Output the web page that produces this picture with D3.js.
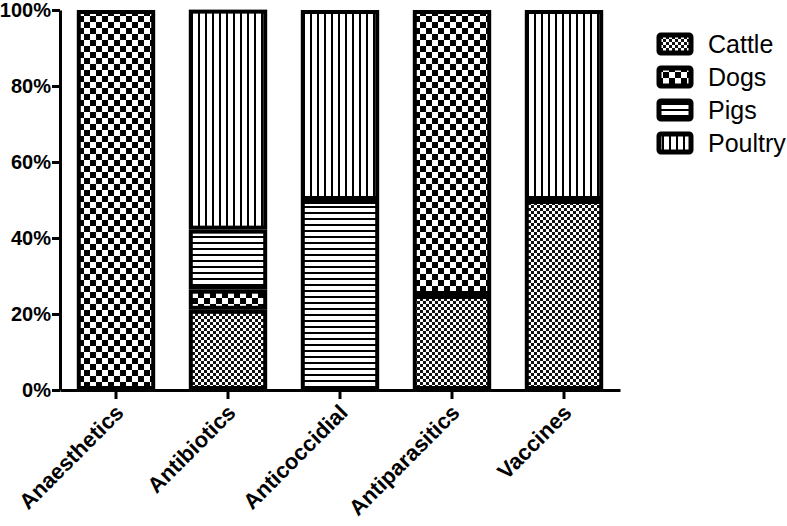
<!DOCTYPE html>
<html>
<head>
<meta charset="utf-8">
<script src="https://cdn.jsdelivr.net/npm/d3@7"></script>
<style>
  body { margin: 0; background: #fff; }
  svg { display: block; font-family: Arial, "Liberation Sans", sans-serif; }
</style>
</head>
<body>
<svg width="787" height="526"></svg>
<script>
const categories = ['Anaesthetics', 'Antibiotics', 'Anticoccidial', 'Antiparasitics', 'Vaccines'];
const species = ['Cattle', 'Dogs', 'Pigs', 'Poultry'];
const cattle  = [0, 21.1, 0, 25, 50];
const dogs    = [100, 5.3, 0, 75, 0];
const pigs    = [0, 15.8, 50, 0, 0];
const poultry = [0, 57.9, 50, 0, 50];
const yTicks = [0, 20, 40, 60, 80, 100];

const svg = d3.select('svg');
const margin = {top: 10, left: 60, bottom: 136, right: 167};
const width = 787 - margin.left - margin.right;
const height = 526 - margin.top - margin.bottom;

const defs = svg.append('defs');

// cattle: fine checker
const pCattle = defs.append('pattern').attr('id', 'p-Cattle')
  .attr('width', 6).attr('height', 6).attr('patternUnits', 'userSpaceOnUse');
pCattle.append('rect').attr('width', 6).attr('height', 6).attr('fill', '#fff');
pCattle.append('rect').attr('width', 3).attr('height', 3).attr('fill', '#111');
pCattle.append('rect').attr('x', 3).attr('y', 3).attr('width', 3).attr('height', 3).attr('fill', '#111');

// dogs: coarse checker
const pDogs = defs.append('pattern').attr('id', 'p-Dogs')
  .attr('width', 12).attr('height', 12).attr('patternUnits', 'userSpaceOnUse');
pDogs.append('rect').attr('width', 12).attr('height', 12).attr('fill', '#fff');
pDogs.append('rect').attr('width', 6).attr('height', 6).attr('fill', '#000');
pDogs.append('rect').attr('x', 6).attr('y', 6).attr('width', 6).attr('height', 6).attr('fill', '#000');

// pigs: horizontal lines
const pPigs = defs.append('pattern').attr('id', 'p-Pigs')
  .attr('width', 6).attr('height', 6).attr('patternUnits', 'userSpaceOnUse');
pPigs.append('rect').attr('width', 6).attr('height', 6).attr('fill', '#fff');
pPigs.append('rect').attr('y', 4).attr('width', 6).attr('height', 2).attr('fill', '#000');

// poultry: vertical lines
const pPoultry = defs.append('pattern').attr('id', 'p-Poultry')
  .attr('width', 7).attr('height', 7).attr('patternUnits', 'userSpaceOnUse');
pPoultry.append('rect').attr('width', 7).attr('height', 7).attr('fill', '#fff');
pPoultry.append('rect').attr('x', 5).attr('width', 2).attr('height', 7).attr('fill', '#000');

const g = svg.append('g').attr('transform', `translate(${margin.left},${margin.top})`);

const x = d3.scaleBand().domain(categories).range([0, width]).paddingInner(0.3).paddingOuter(0.15);
const y = d3.scaleLinear().domain([0, 100]).range([height, 0]);

const rows = categories.map((c, i) => ({
  category: c, Cattle: cattle[i], Dogs: dogs[i], Pigs: pigs[i], Poultry: poultry[i]
}));
const stacked = d3.stack().keys(species)(rows);

g.selectAll('.layer')
  .data(stacked)
  .join('g')
  .attr('fill', d => `url(#p-${d.key})`)
  .selectAll('rect')
  .data(d => d.filter(s => s[1] - s[0] > 0))
  .join('rect')
  .attr('x', d => x(d.data.category) + 2)
  .attr('y', d => y(d[1]) + 2)
  .attr('width', x.bandwidth() - 4)
  .attr('height', d => y(d[0]) - y(d[1]) - 4 > 0 ? y(d[0]) - y(d[1]) - 4 : 0)
  .attr('stroke', '#000')
  .attr('stroke-width', 4);

// y axis
const yAxis = g.append('g')
  .call(d3.axisLeft(y).tickValues(yTicks).tickFormat(d => d + '%').tickSize(8).tickSizeOuter(0));
yAxis.select('.domain').attr('stroke-width', 3);
yAxis.selectAll('.tick line').attr('stroke-width', 3);
yAxis.selectAll('.tick text').attr('font-size', 20).attr('font-weight', 'bold')
  .attr('font-family', 'Arial, "Liberation Sans", sans-serif').attr('fill', '#000').attr('x', -9);

// x axis
const xAxis = g.append('g').attr('transform', `translate(0,${height})`)
  .call(d3.axisBottom(x).tickSize(9).tickSizeOuter(0));
xAxis.select('.domain').attr('stroke-width', 3);
xAxis.selectAll('.tick line').attr('stroke-width', 3);
xAxis.selectAll('.tick text')
  .attr('font-size', 22).attr('font-weight', 'bold')
  .attr('font-family', 'Arial, "Liberation Sans", sans-serif').attr('fill', '#000')
  .attr('text-anchor', 'end')
  .attr('dy', null).attr('y', 0).attr('x', 0)
  .attr('transform', 'translate(9,24) rotate(-45)');

// legend
const legend = svg.append('g').attr('transform', 'translate(657,33)');
const item = legend.selectAll('g').data(species).join('g')
  .attr('transform', (d, i) => `translate(0,${i * 33})`);
item.append('rect')
  .attr('x', 2).attr('y', 2).attr('width', 32).attr('height', 18).attr('rx', 2)
  .attr('fill', d => `url(#p-${d})`).attr('stroke', '#000').attr('stroke-width', 5);
item.append('text')
  .attr('x', 51).attr('y', 11).attr('dy', '0.36em')
  .attr('font-size', 25).attr('fill', '#000')
  .text(d => d);
</script>
</body>
</html>
